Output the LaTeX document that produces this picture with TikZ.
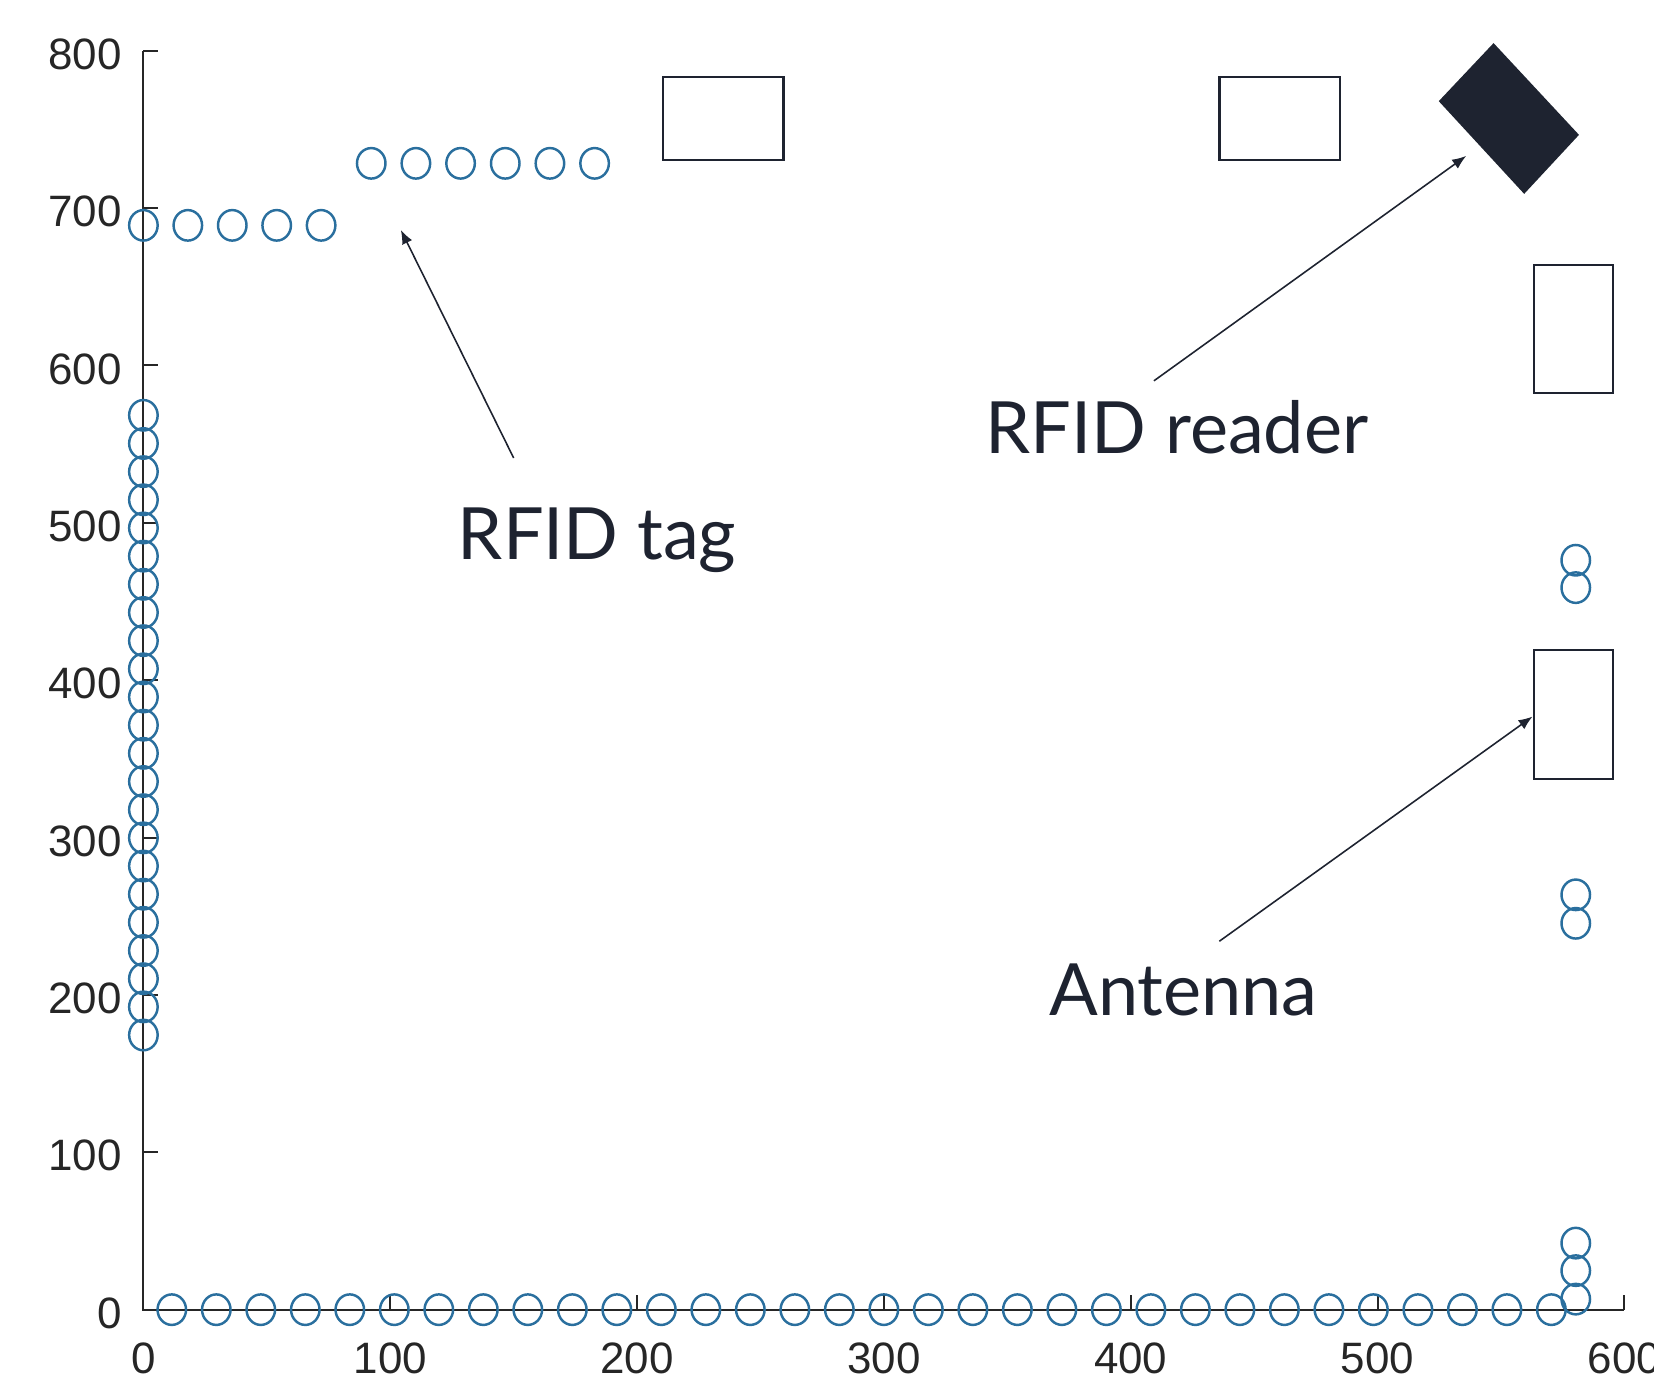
\documentclass[tikz,border=0pt]{standalone}
\usepackage{fontspec}
\setmainfont{Lato}
\newfontfamily\axisfont{Liberation Sans}
\usetikzlibrary{arrows.meta,shapes.geometric}
\definecolor{matblue}{HTML}{2A6F9E}
\definecolor{inkdark}{HTML}{1E2330}
\definecolor{axisgray}{HTML}{262626}

\begin{document}
\begin{tikzpicture}[x=0.02468cm, y=0.01573cm,
    tag/.style={draw=matblue, line width=0.7pt, ellipse, minimum width=2.85mm, minimum height=3.05mm, inner sep=0pt},
    antenna/.style={draw=inkdark, line width=0.6pt, inner sep=0pt},
    callout/.style={font=\fontsize{20.5}{24}\selectfont, text=inkdark, anchor=base, inner sep=0pt},
    pointer/.style={-{Latex[length=1.4mm, width=1.1mm]}, inkdark, line width=0.45pt},
    axisline/.style={axisgray, line width=0.55pt},
    ticklabel/.style={font=\axisfont\fontsize{12.5}{15}\selectfont, text=axisgray, inner sep=0pt}]
  \path[use as bounding box, clip] (-58.1,-40.7) rectangle (612,832.2);
  % axes
  \draw[axisline] (0,800) -- (0,0) -- (600,0);
  \foreach \y in {0,100,...,800}{
    \draw[axisline] (0,\y) -- ++(6,0);
    \node[ticklabel, anchor=east, yshift=-1pt] (yl\y) at (-8.5,\y) {\y};
  }
  \foreach \x in {0,100,...,600}{
    \draw[axisline] (\x,0) -- ++(0,9.5);
    \node[ticklabel, anchor=north] (xl\x) at (\x,-20.8) {\x};
  }
  % tags
  \foreach \k in {0,...,22}{\node[tag] (wall\k) at (0,{174.5+17.9*\k}) {};}
  \foreach \k in {0,...,4}{\node[tag] (rowa\k) at ({18*\k},689) {};}
  \foreach \k in {0,...,5}{\node[tag] (rowb\k) at ({92.3+18.1*\k},728.4) {};}
  \foreach \k in {0,...,31}{\node[tag] (floor\k) at ({11.5+18.03*\k},0) {};}
  \foreach \y/\n in {6.7/a,24.8/b,42.3/c,245.5/d,263.6/e,458.8/f,476.2/g}{\node[tag] (side\n) at (580.3,\y) {};}
  % antennas and reader
  \node[antenna, minimum width=12mm, minimum height=8.33mm] (ant1) at (235,756.9) {};
  \node[antenna, minimum width=12mm, minimum height=8.33mm] (ant2) at (460.3,756.9) {};
  \node[antenna, minimum width=7.9mm, minimum height=12.87mm] (ant3) at (579.3,623.1) {};
  \node[antenna, minimum width=7.9mm, minimum height=12.87mm] (ant4) at (579.3,378.3) {};
  \fill[inkdark] (547,804.8) -- (581.6,746.5) -- (559.4,709) -- (524.8,767.9) -- cycle;
  % callouts
  \node[callout] (tagtext) at (183.8,476.9) {RFID tag};
  \node[callout] (readertext) at (418.8,543.9) {RFID reader};
  \node[callout] (antennatext) at (421.4,187.1) {Antenna};
  \coordinate (tagfoot) at (150,541.2);
  \coordinate (tagtip) at (104.3,686.1);
  \coordinate (readerfoot) at (409.4,590.2);
  \coordinate (readertip) at (535.9,733.1);
  \coordinate (antfoot) at (435.9,234.1);
  \coordinate (anttip) at (562.8,376.9);
  \foreach \a/\b in {tagfoot/tagtip,readerfoot/readertip,antfoot/anttip}{\draw[pointer] (\a) -- (\b);}
\end{tikzpicture}
\end{document}
